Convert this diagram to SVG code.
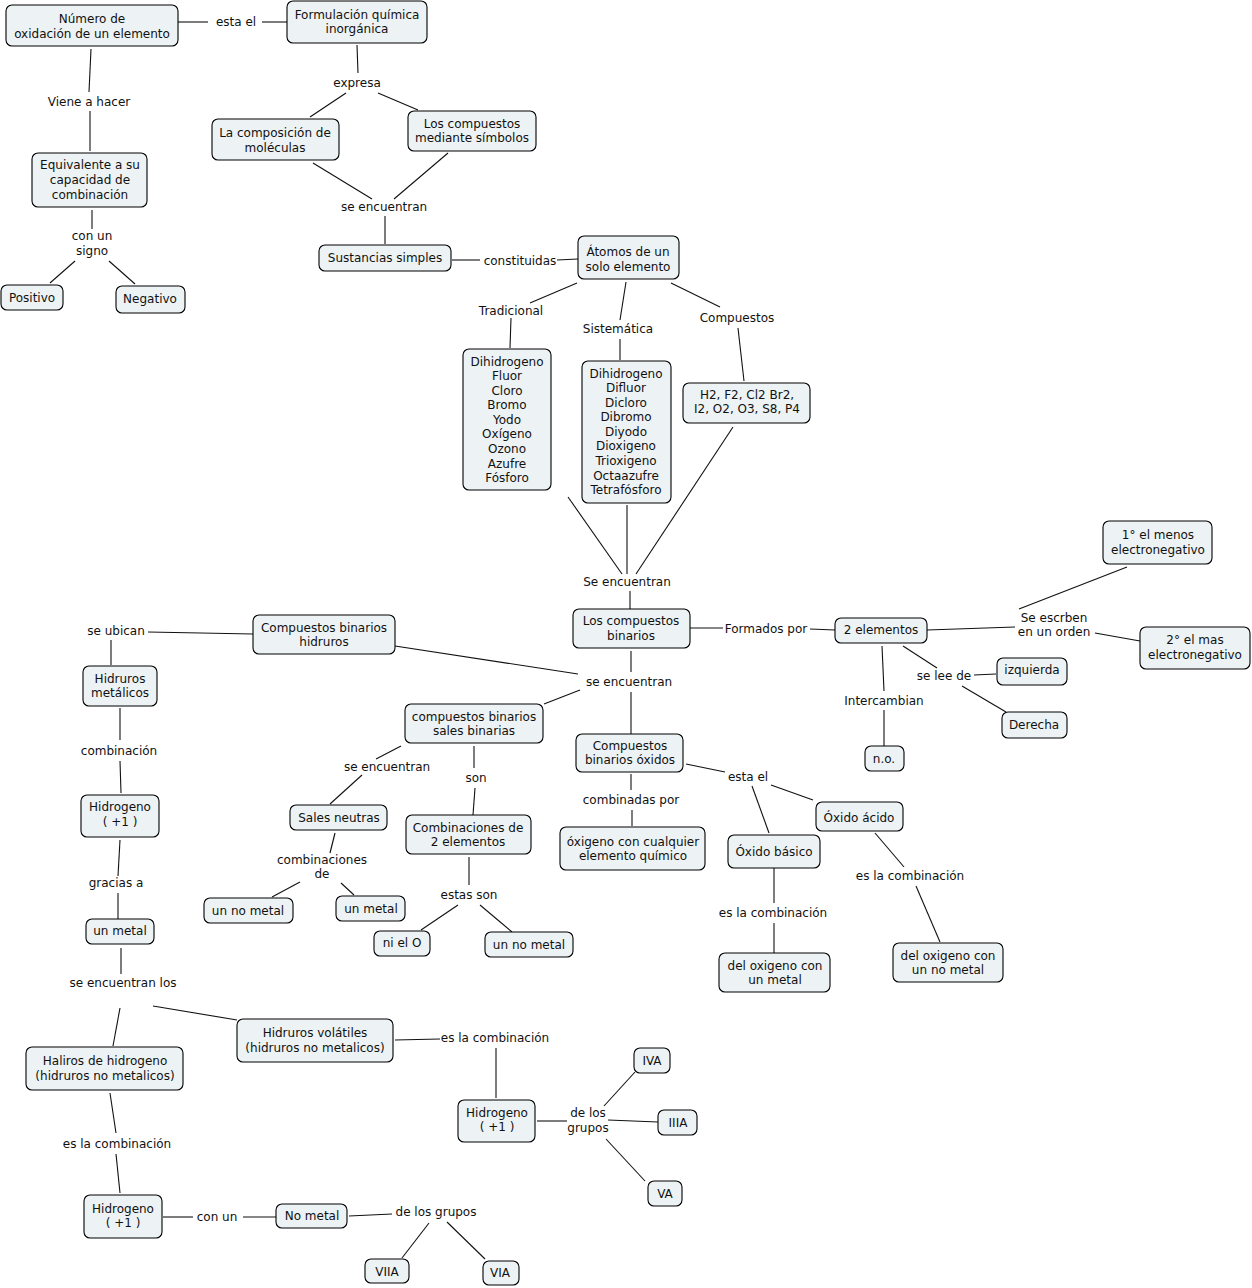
<svg xmlns="http://www.w3.org/2000/svg" width="1252" height="1288" viewBox="0 0 1252 1288">
<style>
.n rect{fill:#EDF3F5;stroke:#000;stroke-width:1.1}
text{font-family:"DejaVu Sans",Verdana,sans-serif;font-size:12px;fill:#111;text-anchor:middle}
#connectors line{stroke:#111;stroke-width:1.1}
</style>
<rect width="1252" height="1288" fill="#fff"/>
<g id="connectors">
<line x1="178" y1="22" x2="208" y2="22"/><line x1="262" y1="22" x2="287" y2="22"/>
<line x1="91" y1="49" x2="89" y2="92"/><line x1="90" y1="111" x2="90" y2="151"/>
<line x1="357" y1="45" x2="358" y2="73"/><line x1="346" y1="93" x2="310" y2="117"/><line x1="378" y1="93" x2="418" y2="110"/>
<line x1="313" y1="163" x2="372" y2="199"/><line x1="448" y1="153" x2="394" y2="199"/><line x1="385" y1="216" x2="385" y2="244"/>
<line x1="92" y1="210" x2="92" y2="229"/><line x1="75" y1="261" x2="50" y2="283"/><line x1="109" y1="261" x2="135" y2="284"/>
<line x1="452" y1="260" x2="480" y2="260"/><line x1="557" y1="260" x2="578" y2="259"/>
<line x1="577" y1="283" x2="530" y2="303"/><line x1="511" y1="318" x2="510" y2="348"/>
<line x1="626" y1="282" x2="620" y2="320"/><line x1="620" y1="339" x2="620" y2="360"/>
<line x1="671" y1="283" x2="720" y2="307"/><line x1="738" y1="328" x2="744" y2="381"/>
<line x1="568" y1="497" x2="622" y2="574"/><line x1="627" y1="505" x2="627" y2="574"/><line x1="733" y1="427" x2="636" y2="574"/>
<line x1="630" y1="591" x2="630" y2="609"/>
<line x1="690" y1="628" x2="723" y2="628"/><line x1="810" y1="629" x2="835" y2="630"/>
<line x1="927" y1="630" x2="1015" y2="627"/><line x1="1019" y1="609" x2="1127" y2="567"/><line x1="1095" y1="633" x2="1140" y2="641"/>
<line x1="903" y1="646" x2="937" y2="668"/><line x1="974" y1="675" x2="996" y2="674"/><line x1="962" y1="686" x2="1006" y2="712"/>
<line x1="882" y1="646" x2="884" y2="691"/><line x1="884" y1="710" x2="884" y2="746"/>
<line x1="631" y1="651" x2="631" y2="672"/><line x1="395" y1="646" x2="578" y2="674"/><line x1="580" y1="690" x2="544" y2="704"/><line x1="631" y1="692" x2="631" y2="734"/>
<line x1="148" y1="632" x2="253" y2="634"/><line x1="111" y1="640" x2="111" y2="665"/>
<line x1="120" y1="708" x2="120" y2="740"/><line x1="120" y1="761" x2="121" y2="793"/>
<line x1="120" y1="840" x2="118" y2="876"/><line x1="118" y1="893" x2="118" y2="919"/>
<line x1="121" y1="948" x2="121" y2="974"/><line x1="153" y1="1006" x2="237" y2="1020"/><line x1="120" y1="1008" x2="113" y2="1046"/>
<line x1="110" y1="1093" x2="116" y2="1133"/><line x1="116" y1="1154" x2="120" y2="1193"/>
<line x1="163" y1="1217" x2="193" y2="1217"/><line x1="243" y1="1217" x2="276" y2="1217"/>
<line x1="349" y1="1216" x2="392" y2="1214"/><line x1="429" y1="1223" x2="402" y2="1258"/><line x1="447" y1="1222" x2="485" y2="1259"/>
<line x1="395" y1="1040" x2="440" y2="1039"/><line x1="496" y1="1048" x2="496" y2="1098"/>
<line x1="537" y1="1121" x2="567" y2="1121"/><line x1="608" y1="1120" x2="658" y2="1122"/><line x1="604" y1="1106" x2="635" y2="1072"/><line x1="606" y1="1139" x2="645" y2="1181"/>
<line x1="401" y1="746" x2="376" y2="759"/><line x1="362" y1="775" x2="330" y2="804"/>
<line x1="474" y1="746" x2="474" y2="768"/><line x1="475" y1="788" x2="473" y2="815"/>
<line x1="335" y1="833" x2="330" y2="853"/><line x1="300" y1="882" x2="272" y2="897"/><line x1="341" y1="883" x2="354" y2="895"/>
<line x1="469" y1="857" x2="469" y2="885"/><line x1="458" y1="905" x2="421" y2="930"/><line x1="480" y1="905" x2="512" y2="932"/>
<line x1="631" y1="774" x2="631" y2="790"/><line x1="632" y1="810" x2="632" y2="826"/>
<line x1="686" y1="764" x2="725" y2="772"/><line x1="771" y1="785" x2="813" y2="800"/><line x1="752" y1="786" x2="769" y2="833"/>
<line x1="774" y1="868" x2="774" y2="903"/><line x1="774" y1="923" x2="774" y2="953"/>
<line x1="875" y1="833" x2="904" y2="867"/><line x1="916" y1="886" x2="940" y2="942"/>
</g>
<g id="links">
<text x="236" y="26">esta el</text>
<text x="89" y="106">Viene a hacer</text>
<text x="357" y="87">expresa</text>
<text x="384" y="211">se encuentran</text>
<text x="92" y="240">con un</text><text x="92" y="255">signo</text>
<text x="520" y="265">constituidas</text>
<text x="511" y="315">Tradicional</text>
<text x="618" y="333">Sistemática</text>
<text x="737" y="322">Compuestos</text>
<text x="627" y="586">Se encuentran</text>
<text x="766" y="633">Formados por</text>
<text x="1054" y="622">Se escrben</text><text x="1054" y="636">en un orden</text>
<text x="944" y="680">se lee de</text>
<text x="884" y="705">Intercambian</text>
<text x="629" y="686">se encuentran</text>
<text x="116" y="635">se ubican</text>
<text x="119" y="755">combinación</text>
<text x="116" y="887">gracias a</text>
<text x="123" y="987">se encuentran los</text>
<text x="117" y="1148">es la combinación</text>
<text x="217" y="1221">con un</text>
<text x="436" y="1216">de los grupos</text>
<text x="495" y="1042">es la combinación</text>
<text x="588" y="1117">de los</text><text x="588" y="1132">grupos</text>
<text x="387" y="771">se encuentran</text>
<text x="476" y="782">son</text>
<text x="322" y="864">combinaciones</text><text x="322" y="878">de</text>
<text x="469" y="899">estas son</text>
<text x="631" y="804">combinadas por</text>
<text x="748" y="781">esta el</text>
<text x="773" y="917">es la combinación</text>
<text x="910" y="880">es la combinación</text>
</g>
<g id="n-numero" class="n"><rect x="6" y="5" width="172" height="41" rx="6"/><text x="92" y="23">Número de</text><text x="92" y="38">oxidación de un elemento</text></g>
<g id="n-formulacion" class="n"><rect x="287" y="1" width="140" height="42" rx="6"/><text x="357" y="19">Formulación química</text><text x="357" y="33">inorgánica</text></g>
<g id="n-composicion" class="n"><rect x="212" y="119" width="127" height="41" rx="6"/><text x="275" y="137">La composición de</text><text x="275" y="152">moléculas</text></g>
<g id="n-simbolos" class="n"><rect x="408" y="111" width="128" height="40" rx="6"/><text x="472" y="128">Los compuestos</text><text x="472" y="142">mediante símbolos</text></g>
<g id="n-equivalente" class="n"><rect x="32" y="153" width="115" height="54" rx="6"/><text x="90" y="169">Equivalente a su</text><text x="90" y="184">capacidad de</text><text x="90" y="199">combinación</text></g>
<g id="n-positivo" class="n"><rect x="1" y="285" width="62" height="25" rx="6"/><text x="32" y="302">Positivo</text></g>
<g id="n-negativo" class="n"><rect x="116" y="286" width="69" height="27" rx="6"/><text x="150" y="303">Negativo</text></g>
<g id="n-sustancias" class="n"><rect x="319" y="245" width="132" height="26" rx="6"/><text x="385" y="262">Sustancias simples</text></g>
<g id="n-atomos" class="n"><rect x="578" y="236" width="101" height="43" rx="6"/><text x="628" y="256">Átomos de un</text><text x="628" y="271">solo elemento</text></g>
<g id="n-tradicional" class="n"><rect x="463" y="349" width="88" height="141" rx="6"/><text x="507" y="366">Dihidrogeno</text><text x="507" y="380">Fluor</text><text x="507" y="395">Cloro</text><text x="507" y="409">Bromo</text><text x="507" y="424">Yodo</text><text x="507" y="438">Oxígeno</text><text x="507" y="453">Ozono</text><text x="507" y="468">Azufre</text><text x="507" y="482">Fósforo</text></g>
<g id="n-sistematica" class="n"><rect x="582" y="361" width="89" height="142" rx="6"/><text x="626" y="378">Dihidrogeno</text><text x="626" y="392">Difluor</text><text x="626" y="407">Dicloro</text><text x="626" y="421">Dibromo</text><text x="626" y="436">Diyodo</text><text x="626" y="450">Dioxigeno</text><text x="626" y="465">Trioxigeno</text><text x="626" y="480">Octaazufre</text><text x="626" y="494">Tetrafósforo</text></g>
<g id="n-formulas" class="n"><rect x="683" y="383" width="127" height="40" rx="6"/><text x="747" y="399">H2, F2, Cl2 Br2,</text><text x="747" y="413">I2, O2, O3, S8, P4</text></g>
<g id="n-binarios" class="n"><rect x="573" y="609" width="117" height="39" rx="6"/><text x="631" y="625">Los compuestos</text><text x="631" y="640">binarios</text></g>
<g id="n-2elementos" class="n"><rect x="835" y="618" width="92" height="25" rx="6"/><text x="881" y="634">2 elementos</text></g>
<g id="n-menos" class="n"><rect x="1103" y="521" width="109" height="43" rx="6"/><text x="1158" y="539">1° el menos</text><text x="1158" y="554">electronegativo</text></g>
<g id="n-mas" class="n"><rect x="1140" y="627" width="110" height="42" rx="6"/><text x="1195" y="644">2° el mas</text><text x="1195" y="659">electronegativo</text></g>
<g id="n-izquierda" class="n"><rect x="997" y="658" width="70" height="27" rx="6"/><text x="1032" y="674">izquierda</text></g>
<g id="n-derecha" class="n"><rect x="1002" y="712" width="65" height="26" rx="6"/><text x="1034" y="729">Derecha</text></g>
<g id="n-no" class="n"><rect x="865" y="746" width="39" height="25" rx="6"/><text x="884" y="763">n.o.</text></g>
<g id="n-hidruros" class="n"><rect x="253" y="615" width="142" height="39" rx="6"/><text x="324" y="632">Compuestos binarios</text><text x="324" y="646">hidruros</text></g>
<g id="n-metalicos" class="n"><rect x="83" y="666" width="74" height="40" rx="6"/><text x="120" y="683">Hidruros</text><text x="120" y="697">metálicos</text></g>
<g id="n-hidrogeno1" class="n"><rect x="81" y="795" width="78" height="42" rx="6"/><text x="120" y="811">Hidrogeno</text><text x="120" y="826">( +1 )</text></g>
<g id="n-unmetal1" class="n"><rect x="86" y="919" width="68" height="25" rx="6"/><text x="120" y="935">un metal</text></g>
<g id="n-volatiles" class="n"><rect x="237" y="1019" width="156" height="43" rx="6"/><text x="315" y="1037">Hidruros volátiles</text><text x="315" y="1052">(hidruros no metalicos)</text></g>
<g id="n-haliros" class="n"><rect x="26" y="1047" width="157" height="43" rx="6"/><text x="105" y="1065">Haliros de hidrogeno</text><text x="105" y="1080">(hidruros no metalicos)</text></g>
<g id="n-hidrogeno2" class="n"><rect x="84" y="1195" width="78" height="43" rx="6"/><text x="123" y="1213">Hidrogeno</text><text x="123" y="1227">( +1 )</text></g>
<g id="n-nometal" class="n"><rect x="276" y="1204" width="71" height="24" rx="6"/><text x="312" y="1220">No metal</text></g>
<g id="n-viia" class="n"><rect x="365" y="1259" width="44" height="24" rx="6"/><text x="387" y="1276">VIIA</text></g>
<g id="n-via" class="n"><rect x="483" y="1261" width="36" height="24" rx="6"/><text x="500" y="1277">VIA</text></g>
<g id="n-hidrogeno3" class="n"><rect x="458" y="1100" width="77" height="42" rx="6"/><text x="497" y="1117">Hidrogeno</text><text x="497" y="1131">( +1 )</text></g>
<g id="n-iva" class="n"><rect x="634" y="1048" width="36" height="25" rx="6"/><text x="652" y="1065">IVA</text></g>
<g id="n-iiia" class="n"><rect x="658" y="1110" width="39" height="25" rx="6"/><text x="678" y="1127">IIIA</text></g>
<g id="n-va" class="n"><rect x="648" y="1181" width="34" height="25" rx="6"/><text x="665" y="1198">VA</text></g>
<g id="n-sales" class="n"><rect x="405" y="704" width="138" height="39" rx="6"/><text x="474" y="721">compuestos binarios</text><text x="474" y="735">sales binarias</text></g>
<g id="n-neutras" class="n"><rect x="290" y="805" width="97" height="25" rx="6"/><text x="339" y="822">Sales neutras</text></g>
<g id="n-unnometal1" class="n"><rect x="204" y="898" width="89" height="25" rx="6"/><text x="248" y="915">un no metal</text></g>
<g id="n-unmetal2" class="n"><rect x="336" y="896" width="69" height="25" rx="6"/><text x="371" y="913">un metal</text></g>
<g id="n-combinaciones" class="n"><rect x="406" y="815" width="125" height="39" rx="6"/><text x="468" y="832">Combinaciones de</text><text x="468" y="846">2 elementos</text></g>
<g id="n-nielo" class="n"><rect x="374" y="931" width="56" height="25" rx="6"/><text x="402" y="947">ni el O</text></g>
<g id="n-unnometal2" class="n"><rect x="485" y="932" width="88" height="25" rx="6"/><text x="529" y="949">un no metal</text></g>
<g id="n-oxidos" class="n"><rect x="576" y="734" width="107" height="38" rx="6"/><text x="630" y="750">Compuestos</text><text x="630" y="764">binarios óxidos</text></g>
<g id="n-oxigeno" class="n"><rect x="560" y="827" width="145" height="43" rx="6"/><text x="633" y="846">óxigeno con cualquier</text><text x="633" y="860">elemento químico</text></g>
<g id="n-acido" class="n"><rect x="816" y="802" width="87" height="29" rx="6"/><text x="859" y="822">Óxido ácido</text></g>
<g id="n-basico" class="n"><rect x="728" y="835" width="92" height="33" rx="6"/><text x="774" y="856">Óxido básico</text></g>
<g id="n-conmetal" class="n"><rect x="719" y="953" width="111" height="39" rx="6"/><text x="775" y="970">del oxigeno con</text><text x="775" y="984">un metal</text></g>
<g id="n-connometal" class="n"><rect x="893" y="943" width="110" height="39" rx="6"/><text x="948" y="960">del oxigeno con</text><text x="948" y="974">un no metal</text></g>
</svg>
